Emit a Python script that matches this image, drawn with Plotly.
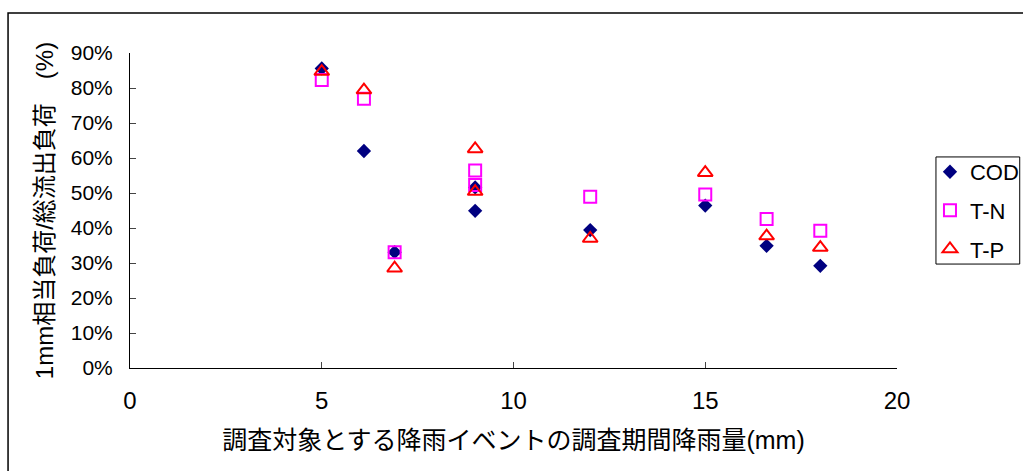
import plotly.graph_objects as go

# Rainfall of each surveyed event (mm)
rain_mm = [5.0, 6.1, 6.9, 9.0, 9.0, 12.0, 15.0, 16.6, 18.0]

# Share of total runoff load carried by the first 1 mm (%)
cod = [85.6, 62.0, 33.1, 51.6, 44.9, 39.4, 46.4, 34.9, 29.2]
t_n = [82.3, 76.9, 33.1, 56.4, 52.3, 48.9, 49.6, 42.6, 39.2]
t_p = [84.7, 79.4, 28.5, 62.6, 50.4, 37.0, 55.8, 37.7, 34.4]

x_ticks = [0, 5, 10, 15, 20]
y_ticks = [0, 10, 20, 30, 40, 50, 60, 70, 80, 90]
y_tick_text = [f"{v}%" for v in y_ticks]

FONT = "Liberation Sans, Arial, Noto Sans CJK JP, sans-serif"

fig = go.Figure()
fig.add_trace(go.Scatter(
    x=rain_mm, y=cod, mode="markers", name="COD", legendgroup="a",
    marker=dict(symbol="diamond", size=11, color="#000080",
                line=dict(width=0)),
))
fig.add_trace(go.Scatter(
    x=rain_mm, y=t_n, mode="markers", name="T-N", legendgroup="b",
    marker=dict(symbol="square-open", size=12, color="#FF00FF",
                line=dict(width=2, color="#FF00FF")),
))
fig.add_trace(go.Scatter(
    x=rain_mm, y=t_p, mode="markers", name="T-P", legendgroup="c",
    marker=dict(symbol="triangle-up-open", size=13, color="#FF0000",
                line=dict(width=2, color="#FF0000")),
))

# outer frame of the chart area
fig.add_shape(type="rect", xref="paper", yref="paper",
              x0=-0.159, x1=1.3, y0=-0.5, y1=1.127,
              line=dict(color="black", width=1.5), layer="below")
# frame around the legend
fig.add_shape(type="rect", xref="paper", yref="paper",
              x0=1.0508, x1=1.16, y0=0.330, y1=0.670,
              line=dict(color="black", width=1), layer="below")

fig.update_layout(
    width=1023, height=471,
    margin=dict(l=130, r=126, t=53, b=103, autoexpand=False),
    paper_bgcolor="white", plot_bgcolor="white",
    font=dict(family=FONT, size=18, color="black"),
    showlegend=True,
    legend=dict(
        x=1.043, y=0.689, xanchor="left", yanchor="top",
        borderwidth=0, bgcolor="rgba(0,0,0,0)",
        font=dict(size=22, family=FONT),
        traceorder="grouped", tracegroupgap=7,
        itemwidth=30,
    ),
    xaxis=dict(
        range=[0, 20], tickvals=x_ticks, ticks="inside", ticklen=6,
        showline=True, linecolor="black", linewidth=1, showgrid=False,
        zeroline=False, tickfont=dict(size=24), ticklabelstandoff=11,
        title=dict(text="調査対象とする降雨イベントの調査期間降雨量(mm)",
                   font=dict(size=25), standoff=18),
    ),
    yaxis=dict(
        range=[0, 90], tickvals=y_ticks, ticktext=y_tick_text,
        ticks="inside", ticklen=6, showline=True, linecolor="black",
        linewidth=1, showgrid=False, zeroline=False,
        tickfont=dict(size=21), ticklabelstandoff=12,
        title=dict(text="1mm相当負荷/総流出負荷　(%)",
                   font=dict(size=24), standoff=10),
    ),
)

fig.write_html("out.html")
